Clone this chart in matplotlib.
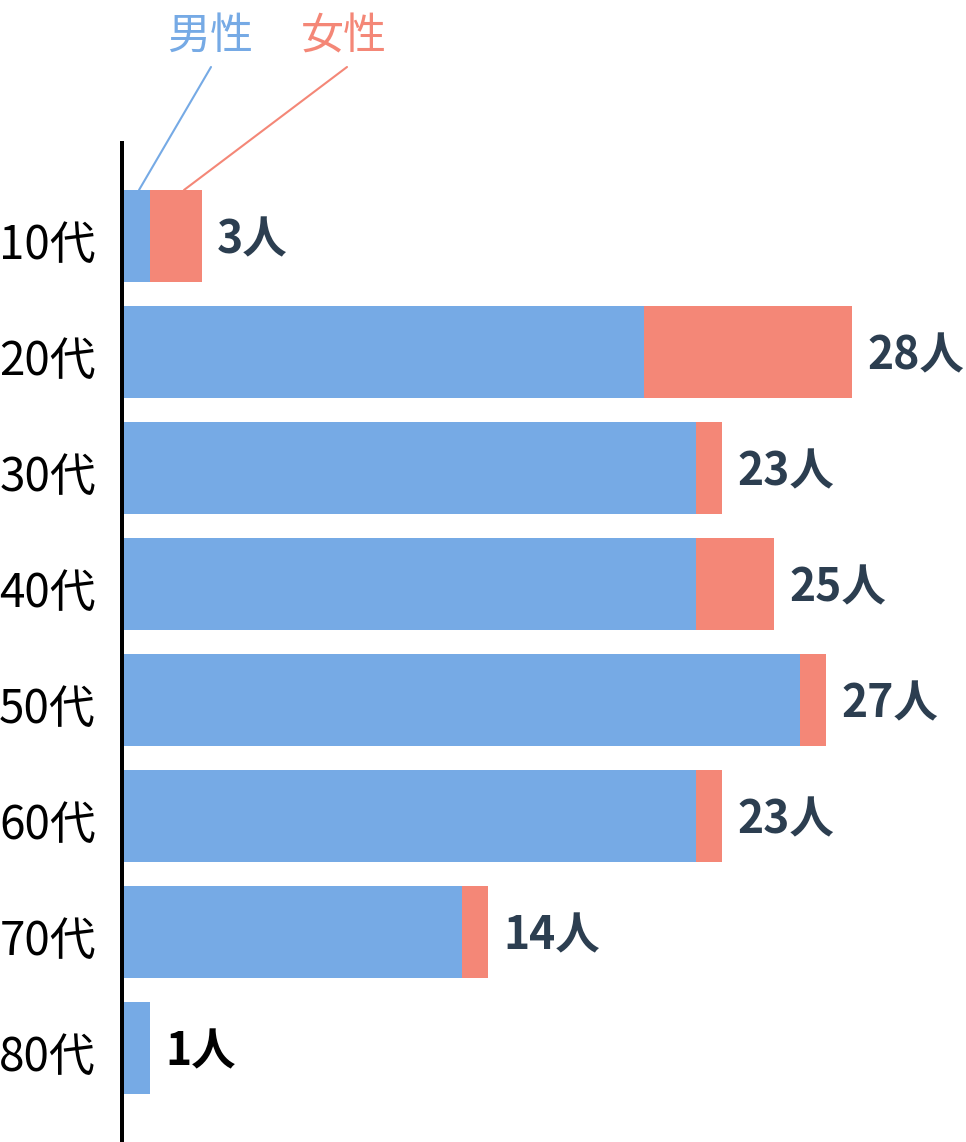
import matplotlib
matplotlib.use("Agg")
import matplotlib.pyplot as plt

plt.rcParams['font.family'] = ['Noto Sans CJK JP', 'DejaVu Sans']

categories = ["10代", "20代", "30代", "40代", "50代", "60代", "70代", "80代"]
male = [1, 20, 22, 22, 26, 22, 13, 1]
female = [2, 8, 1, 3, 1, 1, 1, 0]
totals = [m + f for m, f in zip(male, female)]
value_labels = [f"{t}人" for t in totals]
legend_labels = ["男性", "女性"]

BLUE = "#76aae5"
SALMON = "#f48777"
DARK = "#2c3e50"

W, H = 966, 1142
DPI = 100
fig = plt.figure(figsize=(W / DPI, H / DPI), dpi=DPI)

px = 26.0           # pixels per person
axis_x = 122        # spine position in px
zero_x = 124        # bars start here
top_px, bot_px = 143, 1142
c0, step = 236, 116

ax = fig.add_axes([axis_x / W, 0, (W - axis_x) / W, (H - top_px) / H])
ax.set_xlim(-(zero_x - axis_x) / px, (W - zero_x) / px)
ax.set_ylim((bot_px - c0) / step, (top_px - c0) / step)

ypos = list(range(len(categories)))
bh = 92 / step
ax.barh(ypos, male, height=bh, left=0, color=BLUE, zorder=2)
ax.barh(ypos, female, height=bh, left=male, color=SALMON, zorder=2)

yoff = 4 / step
for i, (t, lab) in enumerate(zip(totals, value_labels)):
    col = "black" if i == len(categories) - 1 else DARK
    ax.text(t + 15 / px, i + yoff, lab, ha='left', va='center', fontsize=32,
            fontweight='bold', color=col, zorder=3)

for s in ['top', 'right', 'bottom']:
    ax.spines[s].set_visible(False)
ax.spines['left'].set_linewidth(4 * 72 / DPI)
ax.spines['left'].set_color('black')
ax.spines['left'].set_position(('data', -(zero_x - axis_x) / px))
ax.spines['left'].set_zorder(5)
ax.set_xticks([])
ax.set_yticks([p + yoff for p in ypos])
ax.set_yticklabels(categories, fontsize=33, color='black')
ax.tick_params(axis='y', length=0, pad=26 * 72 / DPI)

# legend labels and leader lines
fig.text(210 / W, 1 - 37 / H, legend_labels[0], color=BLUE, fontsize=31,
         ha='center', va='center')
fig.text(344 / W, 1 - 37 / H, legend_labels[1], color=SALMON, fontsize=31,
         ha='center', va='center')
bar_top = -bh / 2
ax.annotate('', xy=((139 - zero_x) / px, bar_top), xycoords='data',
            xytext=(211, H - 67), textcoords='figure pixels',
            arrowprops=dict(arrowstyle='-', color=BLUE, lw=1.5,
                            shrinkA=0, shrinkB=0))
ax.annotate('', xy=((184 - zero_x) / px, bar_top), xycoords='data',
            xytext=(347, H - 67), textcoords='figure pixels',
            arrowprops=dict(arrowstyle='-', color=SALMON, lw=1.5,
                            shrinkA=0, shrinkB=0))

fig.savefig("out.png", dpi=DPI)
